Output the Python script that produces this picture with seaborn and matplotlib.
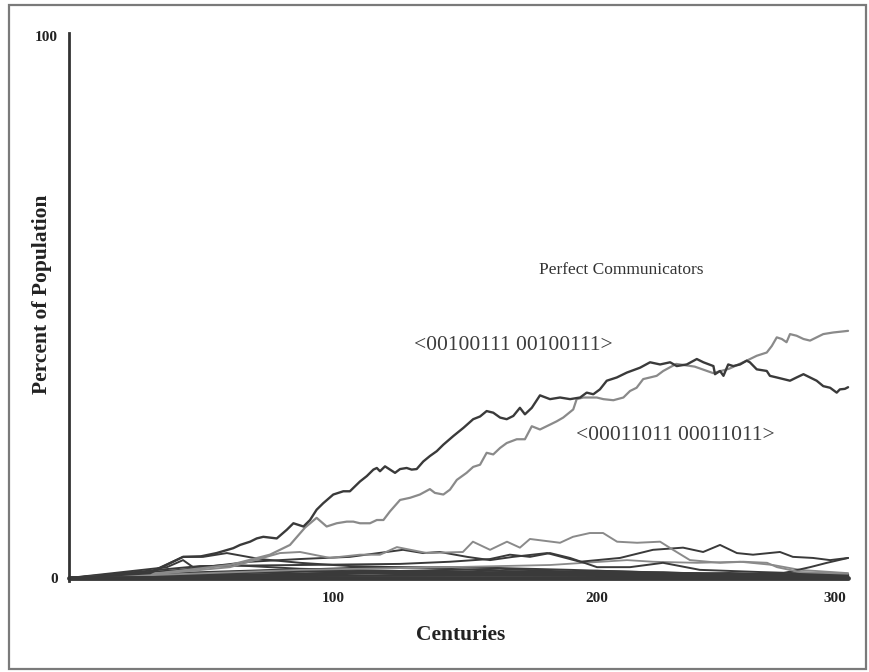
import matplotlib
matplotlib.use("Agg")
import matplotlib.pyplot as plt
import matplotlib.transforms as mtransforms
from matplotlib.patches import Rectangle
import seaborn as sns

# Perfect communicator <00100111 00100111>
pc1_x = [0, 30.7, 43.2, 50.0, 55.9, 62.2, 64.8, 68.6, 71.1, 73.6, 78.7, 82.5, 85.0,
         88.8, 91.3, 93.8, 96.3, 100.1, 103.9, 106.4, 110.2, 112.8, 115.3, 116.6,
         117.8, 119.7, 121.6, 123.5, 125.4, 127.9, 129.8, 131.7, 134.2, 136.7, 139.3,
         141.8, 145.6, 149.4, 153.1, 155.7, 158.2, 160.7, 163.3, 165.8, 168.3, 170.8,
         172.7, 175.3, 178.4, 182.2, 186.0, 189.8, 193.6, 196.1, 198.6, 201.1, 203.7,
         207.5, 211.3, 216.3, 220.1, 223.9, 227.7, 230.2, 234.0, 237.8, 240.3, 244.1,
         244.7, 246.6, 247.9, 249.7, 251.6, 254.2, 256.7, 257.9, 260.5, 264.3, 265.5,
         268.1, 270.6, 273.1, 275.6, 278.2, 280.7, 283.2, 285.7, 288.3, 290.8, 292.0,
         293.9, 295.1]
pc1_y = [0, 0.9, 3.9, 4.0, 4.6, 5.5, 6.1, 6.7, 7.3, 7.6, 7.3, 8.9, 10.1,
         9.5, 10.7, 12.6, 13.8, 15.4, 16.0, 16.0, 17.8, 18.8, 20.0, 20.3,
         19.7, 20.6, 20.0, 19.4, 20.1, 20.3, 20.0, 20.1, 21.5, 22.5, 23.4,
         24.6, 26.2, 27.7, 29.3, 29.8, 30.8, 30.5, 29.6, 29.3, 29.9, 31.4,
         30.2, 31.4, 33.7, 33.0, 33.3, 33.0, 33.3, 34.2, 33.9, 34.8, 36.4,
         37.0, 37.9, 38.8, 39.8, 39.4, 39.8, 39.1, 39.4, 40.4, 39.8, 39.1,
         37.6, 38.2, 37.3, 39.4, 39.1, 39.4, 40.1, 39.8, 38.5, 38.2, 37.3,
         37.0, 36.7, 36.4, 37.0, 37.6, 37.0, 36.4, 35.4, 35.1, 34.2, 34.8,
         34.9, 35.2]

# Perfect communicator <00011011 00011011>
pc2_x = [0, 30.7, 61.0, 76.1, 83.7, 89.4, 93.8, 97.6, 101.4, 105.2, 107.7, 110.2,
         114.0, 116.6, 119.1, 121.6, 125.4, 129.2, 132.9, 136.7, 138.6, 141.8, 144.3,
         146.9, 150.6, 153.1, 155.7, 158.2, 160.7, 163.3, 165.8, 169.6, 172.7, 175.3,
         178.4, 182.2, 184.7, 187.2, 191.0, 192.3, 194.8, 199.9, 202.4, 206.2, 210.0,
         212.5, 215.0, 217.5, 220.1, 222.6, 225.1, 230.0, 237.0, 244.0, 250.0, 256.7,
         260.5, 264.3, 266.2, 268.1, 270.0, 271.8, 273.1, 275.6, 278.2, 280.7, 283.2,
         285.7, 289.5, 293.3, 295.1]
pc2_y = [0, 0.7, 2.4, 4.3, 6.1, 9.3, 11.1, 9.5, 10.1, 10.4, 10.4, 10.1,
         10.1, 10.7, 10.7, 12.3, 14.4, 14.8, 15.4, 16.4, 15.7, 15.4, 16.3,
         18.1, 19.4, 20.5, 20.9, 23.1, 22.8, 24.0, 24.9, 25.6, 25.6, 28.0,
         27.4, 28.3, 28.9, 29.6, 31.1, 33.0, 33.3, 33.3, 33.0, 32.8, 33.3,
         34.5, 35.1, 36.7, 37.0, 37.3, 38.2, 39.5, 39.0, 37.8, 38.6, 40.1,
         41.0, 41.6, 42.8, 44.4, 44.1, 43.5, 45.0, 44.7, 44.1, 43.8, 44.4,
         45.0, 45.3, 45.5, 45.6]

# Other strategies that stay near the floor
s1_x = [0, 30.7, 61.0, 79.9, 87.5, 98.9, 110.2, 117.8, 124.2, 135.6, 149.2, 153.0,
        159.5, 165.9, 170.8, 174.6, 186.0, 190.9, 197.3, 202.3, 207.6, 215.2, 223.9,
        228.8, 235.2, 246.6, 255.3, 264.4, 268.2, 276.9, 295.1]
s1_y = [0, 0.6, 2.0, 4.6, 4.8, 3.7, 4.3, 4.3, 5.7, 4.6, 4.8, 6.7,
        5.2, 6.7, 5.6, 7.2, 6.5, 7.6, 8.3, 8.3, 6.7, 6.5, 6.7,
        5.2, 3.3, 2.8, 3.0, 2.8, 2.0, 1.1, 0.8]

s2_x = [0, 42.0, 68.6, 87.5, 106.4, 126.5, 134.1, 140.5, 150.8, 159.5, 168.2, 181.1,
        193.6, 208.7, 221.2, 232.6, 240.2, 246.6, 253.0, 259.1, 269.3, 274.2, 281.8,
        288.3, 295.1]
s2_y = [0, 1.5, 3.0, 3.5, 3.9, 5.2, 4.6, 4.8, 3.9, 3.3, 3.9, 4.6,
        3.0, 3.7, 5.2, 5.6, 4.8, 6.1, 4.6, 4.3, 4.8, 3.9, 3.7,
        3.3, 3.7]

s3_x = [0, 100, 200, 261.7, 270.5, 280.7, 287.1, 295.1]
s3_y = [0, 0.4, 0.6, 0.3, 0.9, 2.0, 2.8, 3.7]

s4_x = [0, 49.6, 87.5, 125.4, 144.3, 159.5, 167.0, 174.6, 182.2, 189.8, 200,
        212.5, 225.0, 239.0, 261.7, 295.1]
s4_y = [0, 2.2, 2.4, 2.6, 3.0, 3.5, 4.3, 3.9, 4.6, 3.7, 2.0,
        2.0, 2.8, 1.5, 1.1, 0.6]

s5_x = [0, 87.5, 144.3, 182.2, 211.4, 221.2, 237.9, 254.2, 266.7, 276.9, 295.1]
s5_y = [0, 1.5, 2.0, 2.4, 3.3, 3.0, 2.8, 3.0, 2.4, 1.5, 0.9]

s6_x = [0, 30.7, 43.2, 50.8, 59.8, 72.3, 87.5, 106.4, 133, 163.3, 201.1, 239, 295.1]
s6_y = [0, 1.1, 3.9, 3.9, 4.6, 3.5, 2.8, 2.2, 1.9, 1.3, 1.1, 0.7, 0.4]

s7_x = [0, 37.1, 43.2, 47, 61, 87.5, 125.4, 163.3, 201.1, 295.1]
s7_y = [0, 2.0, 3.3, 2.0, 2.4, 1.7, 1.3, 1.7, 0.9, 0.3]

s8_x = [0, 40, 80, 120, 160, 200, 240, 295.1]
s8_y = [0, 0.9, 1.5, 1.1, 0.9, 1.3, 0.8, 0.5]

s9_x = [0, 50, 100, 150, 200, 250, 295.1]
s9_y = [0, 0.5, 0.9, 0.6, 0.4, 0.3, 0.2]

s10_x = [0, 60, 110, 150, 190, 230, 270, 295.1]
s10_y = [0, 1.1, 1.9, 2.0, 1.5, 0.9, 0.4, 0.2]

s11_x = [0, 45, 90, 130, 170, 210, 250, 295.1]
s11_y = [0, 0.7, 1.2, 0.8, 1.1, 0.6, 0.9, 0.4]

s12_x = [0, 55, 95, 140, 185, 225, 265, 295.1]
s12_y = [0, 0.4, 0.6, 1.3, 0.7, 1.0, 0.5, 0.6]

x_ticks = [100, 200, 300]
y_ticks = [0, 100]

DARK = "#3a3a3a"
GRAY = "#8a8a8a"

sns.set_style("white")
plt.rcParams["font.family"] = ["Liberation Serif", "DejaVu Serif"]

fig = plt.figure(figsize=(8.7, 6.72), dpi=100)
ax = fig.add_axes([69 / 870, 1 - 578 / 672, 792 / 870, 542 / 672])

background = [
    (s12_x, s12_y, DARK, 1.6), (s11_x, s11_y, DARK, 1.6),
    (s9_x, s9_y, DARK, 1.6), (s8_x, s8_y, DARK, 1.6), (s10_x, s10_y, DARK, 1.4),
    (s7_x, s7_y, DARK, 1.4), (s6_x, s6_y, DARK, 1.4), (s5_x, s5_y, GRAY, 1.3),
    (s4_x, s4_y, DARK, 1.4), (s3_x, s3_y, DARK, 1.4), (s2_x, s2_y, DARK, 1.4),
    (s1_x, s1_y, GRAY, 1.4),
]
for xs, ys, col, lw in background:
    sns.lineplot(x=xs, y=ys, ax=ax, color=col, lw=lw, sort=False,
                 estimator=None, clip_on=False)

sns.lineplot(x=pc2_x, y=pc2_y, ax=ax, color=GRAY, lw=1.6, sort=False,
             estimator=None, clip_on=False)
sns.lineplot(x=pc1_x, y=pc1_y, ax=ax, color=DARK, lw=1.7, sort=False,
             estimator=None, clip_on=False)

# thick floor where most strategies sit
sns.lineplot(x=[0, 295.1], y=[0, 0], ax=ax, color=DARK, lw=3.5, clip_on=False)

ax.set_xlim(0, 300)
ax.set_ylim(0, 100)
ax.set_xticks(x_ticks)
ax.set_xticklabels([str(t) for t in x_ticks])
ax.set_yticks(y_ticks)
ax.set_yticklabels([str(t) for t in y_ticks])
ax.tick_params(axis="both", length=0, labelsize=11, colors="#222222")
ax.tick_params(axis="x", pad=10)
ax.tick_params(axis="y", pad=8)
for lab in ax.get_xticklabels() + ax.get_yticklabels():
    lab.set_fontweight("bold")
last = ax.get_xticklabels()[-1]
last.set_transform(last.get_transform() +
                   mtransforms.ScaledTranslation(-0.26, 0, fig.dpi_scale_trans))

for side in ["top", "right", "bottom"]:
    ax.spines[side].set_visible(False)
ax.spines["left"].set_color("#333333")
ax.spines["left"].set_linewidth(2.0)
ax.spines["left"].set_bounds(-0.5, 100.5)

ax.set_xlabel("")
ax.set_ylabel("")
fig.text(42 / 870, 1 - 294 / 672, "Percent of Population", rotation=90,
         ha="center", va="center", fontsize=15.5, fontweight="bold", color="#222222")
fig.text(461 / 870, 1 - 635 / 672, "Centuries", ha="center", va="center",
         fontsize=15.5, fontweight="bold", color="#222222")
fig.text(621 / 870, 1 - 270 / 672, "Perfect Communicators", ha="center",
         va="center", fontsize=12.5, color="#333333")
fig.text(513 / 870, 1 - 346 / 672, "<00100111 00100111>", ha="center",
         va="center", fontsize=15.5, color="#3c3c3c")
fig.text(675 / 870, 1 - 436 / 672, "<00011011 00011011>", ha="center",
         va="center", fontsize=15.5, color="#3c3c3c")

fig.patches.append(Rectangle((9 / 870, 1 - 669 / 672), 857 / 870, 664 / 672,
                             transform=fig.transFigure, fill=False,
                             edgecolor="#7a7a7a", lw=1.6))

fig.savefig("out.png", dpi=100)
